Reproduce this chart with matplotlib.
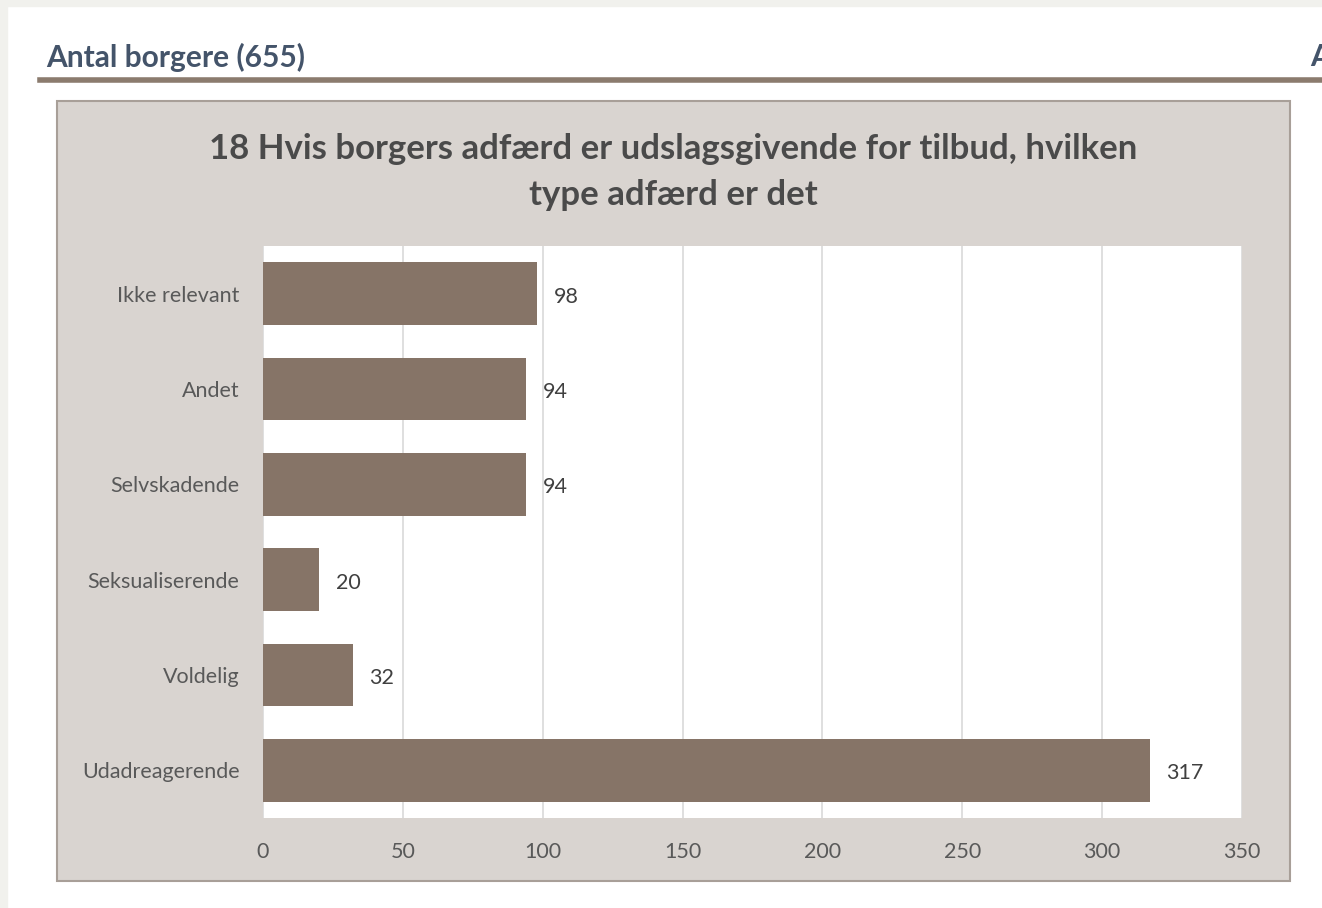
import matplotlib
matplotlib.use("Agg")
import matplotlib.pyplot as plt
from matplotlib.patches import Rectangle
from matplotlib.lines import Line2D

categories = ["Ikke relevant", "Andet", "Selvskadende", "Seksualiserende", "Voldelig", "Udadreagerende"]
values = [98, 94, 94, 20, 32, 317]
xticks = [0, 50, 100, 150, 200, 250, 300, 350]
heading = "Antal borgere (655)"
title = "18 Hvis borgers adfærd er udslagsgivende for tilbud, hvilken\ntype adfærd er det"

plt.rcParams['font.family'] = ['Lato', 'DejaVu Sans']

W, H = 1322, 908
fig = plt.figure(figsize=(W / 100, H / 100), dpi=100)
fig.patch.set_facecolor("white")

def fx(px):
    return px / W

def fy(py):
    return 1 - py / H

# page edge strips
fig.add_artist(Rectangle((0, fy(6)), 1, 6 / H, transform=fig.transFigure, color="#F1F1ED", zorder=0))
fig.add_artist(Rectangle((0, 0), 7 / W, 1, transform=fig.transFigure, color="#F1F1ED", zorder=0))

# heading
fig.text(fx(46), fy(57), heading, fontsize=21.5, fontweight="bold", color="#44546A", va="center", ha="left")
fig.text(fx(1310), fy(57), "A", fontsize=21.5, fontweight="bold", color="#44546A", va="center", ha="left")
fig.add_artist(Line2D([fx(40), 1], [fy(80), fy(80)], transform=fig.transFigure, color="#8B7B6E", lw=4))

# chart box
fig.add_artist(Rectangle((fx(57), fy(881)), (1290 - 57) / W, (881 - 101) / H, transform=fig.transFigure,
                         facecolor="#D9D4D0", edgecolor="#A89F98", lw=1.5, zorder=1))

fig.text(fx(673), fy(172), title, fontsize=25, fontweight="bold", color="#4A4A4A", ha="center", va="center",
         linespacing=1.55, zorder=3)

ax = fig.add_axes([fx(263), fy(818), (1242 - 263) / W, (818 - 246) / H], zorder=2)
ax.set_facecolor("white")
y = list(range(len(categories)))
bars = ax.barh(y, values, height=0.66, color="#867467", zorder=3)
ax.set_xlim(0, 350)
ax.set_ylim(len(categories) - 0.5, -0.5)
ax.set_xticks(xticks)
ax.set_xticklabels([str(t) for t in xticks])
ax.set_yticks(y)
ax.set_yticklabels(categories)
ax.grid(axis="x", color="#D9D9D9", lw=1.2, zorder=0)
for s in ax.spines.values():
    s.set_visible(False)
ax.tick_params(axis="both", length=0, labelsize=15.5, labelcolor="#595959")
ax.tick_params(axis="x", pad=17)
ax.tick_params(axis="y", pad=17)
for b, v in zip(bars, values):
    ax.text(v + 6, b.get_y() + b.get_height() / 2 + 0.03, str(v), fontsize=15.5, color="#404040", va="center",
            ha="left", zorder=4)

fig.savefig("out.png", dpi=100, facecolor="white")
